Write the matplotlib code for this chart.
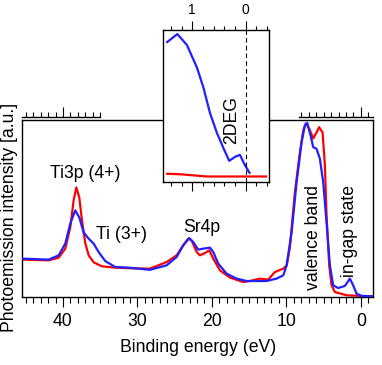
import numpy as np
import matplotlib
matplotlib.use("Agg")
import matplotlib.pyplot as plt
from matplotlib.ticker import FixedLocator, MultipleLocator, NullFormatter

plt.rcParams['font.family'] = ['Liberation Sans', 'DejaVu Sans']
plt.rcParams['font.size'] = 12.7

# main spectrum: binding energy (eV) and intensity (arb. units)
red_e = [45.4, 41.92, 40.58, 39.69, 39.02, 38.57, 38.21, 37.81, 37.45, 37.0,
         36.55, 35.88, 34.77, 32.98, 30.74, 28.32, 26.08, 24.74, 23.85, 23.18,
         22.73, 22.05, 21.61, 20.94, 20.36, 19.82, 18.93, 17.58, 15.79, 14.9,
         13.56, 12.44, 11.54, 10.42, 9.95, 9.53, 8.86, 8.19, 7.74, 7.38, 6.94,
         6.40, 5.95, 5.60, 5.14, 4.83, 4.61, 4.25, 3.93, 3.49, 1.92, -1.7]
red_i = [37.7, 37, 39.7, 48.7, 70, 97, 110, 100, 77, 54,
         42, 35, 31, 29.7, 29, 28.7, 35.3, 42, 52, 58.7,
         57, 45.3, 42, 44.3, 47, 38.7, 27, 19.7, 15.3, 16.3,
         18.7, 17.7, 25.3, 28.7, 32, 50, 105, 145, 167, 174, 169,
         159, 165, 170.3, 165, 132, 82, 32, 12, 5.3, 2, 1]

blue_e = [45.4, 41.92, 40.58, 39.69, 39.02, 38.35, 37.81, 37.23, 36.55, 35.88,
          35.21, 34.32, 32.98, 31.18, 28.32, 26.08, 24.74, 23.85, 23.05, 22.51,
          21.84, 21.17, 20.27, 19.82, 19.15, 18.03, 16.69, 15.34, 12.66, 11.32,
          10.42, 9.97, 9.30, 8.63, 7.96, 7.52, 7.21, 6.75, 6.40, 5.95, 5.50,
          5.06, 4.61, 4.16, 3.72, 3.05, 2.15, 1.48, 1.03, 0.58, -0.09, -1.7]
blue_i = [38.7, 37.7, 42, 53.7, 73.7, 87, 80, 65, 58.7, 53.7,
          45.3, 36.3, 30.3, 29.7, 27.5, 32, 40.3, 52, 59.3, 55.3,
          47.7, 48.7, 49.7, 45.3, 33.7, 23.7, 18.7, 16.3, 16.3, 18.7,
          22, 32, 65, 115, 155, 172, 174.7, 162, 150.3, 148.7, 138.7,
          115.3, 75.3, 32, 12, 9.3, 11.3, 18.7, 12, 3.7, 1.3, 1]

# inset: near Fermi level
inset_blue_e = [1.47, 1.28, 1.10, 0.91, 0.79, 0.67, 0.54, 0.42, 0.31, 0.20,
                0.11, 0.02, -0.07]
inset_blue_i = [140, 148, 137, 114, 94, 69, 49, 34, 21, 25, 27, 17, 9]
inset_red_e = [1.47, 1.22, 0.73, -0.38]
inset_red_i = [8, 7.5, 5.3, 5.3]

red = '#ff0000'
blue = '#2020ff'

fig = plt.figure(figsize=(3.82, 3.65), dpi=100)
ax = fig.add_axes([0.0584, 0.1855, 0.919, 0.4844])
ax.plot(red_e, red_i, color=red, lw=1.6, zorder=2)
ax.plot(blue_e, blue_i, color=blue, lw=1.6, zorder=3)
ax.set_xlim(45.46, -1.68)
ax.set_ylim(0, 177)
ax.set_yticks([])
ax.xaxis.set_major_locator(MultipleLocator(10))
ax.xaxis.set_minor_locator(MultipleLocator(1))
ax.tick_params(which='major', direction='out', length=7.5, width=0.8)
ax.tick_params(which='minor', direction='out', length=4, width=0.8)
for s in ax.spines.values():
    s.set_linewidth(1.0)
ax.set_xlabel("Binding energy (eV)", labelpad=7)
ax.set_ylabel("Photoemission intensity [a.u.]")
ax.yaxis.set_label_coords(-0.012, 0.449)

# partial top tick bars
for lo, hi, major in [(45.46, 35.0, [40]), (8.28, -1.6, [0])]:
    sec = ax.secondary_xaxis(1.018)
    sec.spines['top'].set_bounds(lo, hi)
    sec.spines['top'].set_linewidth(1.0)
    sec.xaxis.set_major_locator(FixedLocator(major))
    sec.xaxis.set_minor_locator(FixedLocator(list(range(int(np.ceil(hi)), int(np.floor(lo)) + 1))))
    sec.xaxis.set_major_formatter(NullFormatter())
    sec.tick_params(which='major', direction='out', length=7.5, width=0.8)
    sec.tick_params(which='minor', direction='out', length=3.5, width=0.8)

ax.text(37.05, 124, "Ti3p (4+)", ha='center', va='center')
ax.text(32.1, 63, "Ti (3+)", ha='center', va='center')
ax.text(21.3, 70, "Sr4p", ha='center', va='center')
ax.text(6.4, 60, "valence band", rotation=90, ha='center', va='center')
ax.text(1.5, 66, "in-gap state", rotation=90, ha='center', va='center')

# inset
axi = fig.add_axes([0.426, 0.502, 0.279, 0.4156], zorder=5)
axi.set_facecolor('white')
axi.plot(inset_red_e, inset_red_i, color=red, lw=1.6)
axi.plot(inset_blue_e, inset_blue_i, color=blue, lw=1.6)
axi.axvline(0, color='black', lw=0.8, ls=(0, (4, 3)))
axi.set_xlim(1.553, -0.44)
axi.set_ylim(0, 152)
axi.set_yticks([])
axi.xaxis.set_major_locator(FixedLocator([1, 0]))
axi.xaxis.set_minor_locator(MultipleLocator(0.2))
axi.tick_params(which='both', top=True, bottom=True, labeltop=True,
                labelbottom=False, direction='out', width=0.8, labelsize=10)
axi.tick_params(which='major', length=6.5, pad=3)
axi.tick_params(which='minor', length=3)
for s in axi.spines.values():
    s.set_linewidth(1.0)
axi.text(0.26, 62, "2DEG", rotation=90, ha='center', va='center')

fig.savefig("out.png", dpi=100)
